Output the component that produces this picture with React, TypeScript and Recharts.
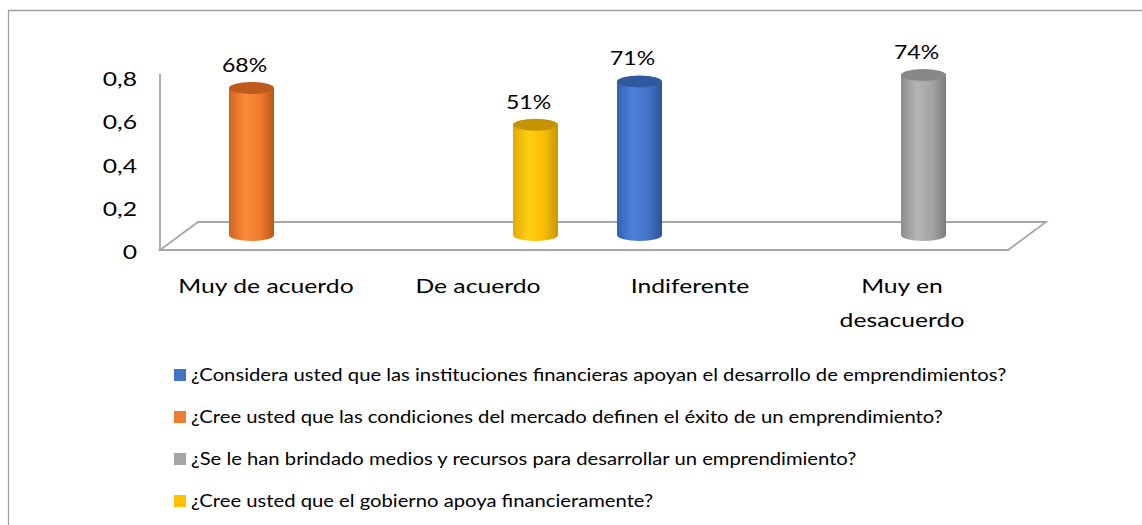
import React from 'react';
import { BarChart, Bar, XAxis, YAxis, LabelList } from 'recharts';

// ---------- data ----------
const CATEGORIES = ['Muy de acuerdo', 'De acuerdo', 'Indiferente', 'Muy en desacuerdo'];
const SERIES_NAMES = [
  '¿Considera usted que las instituciones financieras apoyan el desarrollo de emprendimientos?',
  '¿Cree usted que las condiciones del mercado definen el éxito de un emprendimiento?',
  '¿Se le han brindado medios y recursos para desarrollar un emprendimiento?',
  '¿Cree usted que el gobierno apoya financieramente?',
];
const INSTITUCIONES = [null, null, 0.71, null];
const MERCADO = [0.68, null, null, null];
const RECURSOS = [null, null, null, 0.74];
const GOBIERNO = [null, 0.51, null, null];
const Y_TICKS = [0, 0.2, 0.4, 0.6, 0.8];

const SERIES_KEYS = ['instituciones', 'mercado', 'recursos', 'gobierno'];
const SERIES_VALUES = [INSTITUCIONES, MERCADO, RECURSOS, GOBIERNO];

// ---------- styles ----------
const W = 1142;
const H = 525;
const FONT = 'Lato, "Noto Sans", sans-serif';
const AXIS_FS = 20;
const AXIS_SX = 1.235;
const PCT_FS = 20;
const PCT_SX = 1.15;
const LEG_FS = 17;
const LEG_SX = 1.19;
const LEGEND_COLORS = ['#4472C4', '#ED7D31', '#A5A5A5', '#FFC000'];
const GRADS = [
  { s: ['#3462B3', '#4C82DC', '#4473C6', '#2C5297'], top: '#2F5A9E' },
  { s: ['#D1641C', '#FA8C3A', '#EE7B2D', '#B8561A'], top: '#BF5A1C' },
  { s: ['#8C8C8C', '#B4B4B4', '#A3A3A3', '#7C7C7C'], top: '#888888' },
  { s: ['#E2AA00', '#FFCF14', '#F7BD00', '#C79500'], top: '#C49400' },
];
const AXIS_GRAY = '#A6A6A6';

const MARGIN = { top: 62, right: 131, bottom: 50, left: 103 };
const CHART_H = 345;
const YAXIS_W = 60;
const XAXIS_H = 60;
const PLOT_LEFT = MARGIN.left + YAXIS_W;
const PLOT_RIGHT = W - MARGIN.right;
const BASE_Y = CHART_H - MARGIN.bottom - XAXIS_H;
const FRONT_DY = 15;
const BACK_DY = -13;

const data = CATEGORIES.map((c, i) => {
  const row: any = { category: c };
  SERIES_KEYS.forEach((k, j) => {
    row[k] = SERIES_VALUES[j][i];
  });
  return row;
});

function SText({ x, y, anchor = 'middle', size = 19, sx = 1.2, children }: any) {
  return (
    <text
      transform={`translate(${x},${y}) scale(${sx},1)`}
      textAnchor={anchor}
      fontSize={size}
      fontFamily={FONT}
      fill="#000"
    >
      {children}
    </text>
  );
}

function makeCylinder(key: string, idx: number) {
  return (props: any) => {
    const { x, y, width, height, payload } = props;
    if (!payload || payload[key] == null || !(height > 0)) return <g />;
    const rx = width / 2;
    const ry = 6;
    const by = y + height;
    const d = `M${x},${y} L${x},${by} A${rx},${ry} 0 0 0 ${x + width},${by} L${x + width},${y} Z`;
    return (
      <g>
        <path d={d} fill={`url(#cyl-${idx})`} />
        <ellipse cx={x + rx} cy={y} rx={rx} ry={ry} fill={GRADS[idx].top} />
      </g>
    );
  };
}

function makePctLabel(idx: number) {
  return (props: any) => {
    const { x, y, width, value } = props;
    if (value == null || x == null) return null;
    return (
      <SText key={`lbl-${idx}`} x={x + width / 2 - 7} y={y - 16} size={PCT_FS} sx={PCT_SX}>
        {`${Math.round(value * 100)}%`}
      </SText>
    );
  };
}

function wrapLabel(s: string, max: number) {
  const words = s.split(' ');
  const lines: string[] = [];
  let cur = '';
  words.forEach((w) => {
    const t = cur ? cur + ' ' + w : w;
    if (t.length > max && cur) {
      lines.push(cur);
      cur = w;
    } else cur = t;
  });
  if (cur) lines.push(cur);
  return lines;
}

function XTick(props: any) {
  const { x, y, payload } = props;
  const lines = wrapLabel(String(payload.value), 15);
  return (
    <g>
      {lines.map((l, i) => (
        <SText key={i} x={x - 3} y={y + 58 + i * 34} size={AXIS_FS} sx={AXIS_SX}>
          {l}
        </SText>
      ))}
    </g>
  );
}

function YTick(props: any) {
  const { x, y, payload } = props;
  const label = String(payload.value).replace('.', ',');
  return (
    <SText x={x + 2} y={y + 17 + 7} anchor="end" size={AXIS_FS} sx={AXIS_SX}>
      {label}
    </SText>
  );
}

export default function App() {
  const floor = [
    [PLOT_LEFT - 3, BASE_Y + FRONT_DY],
    [PLOT_RIGHT - 3, BASE_Y + FRONT_DY],
    [PLOT_RIGHT + 35, BASE_Y + BACK_DY],
    [PLOT_LEFT + 35, BASE_Y + BACK_DY],
  ]
    .map((p) => p.join(','))
    .join(' ');
  const legendRows = [375, 417, 459, 501];
  return (
    <div style={{ position: 'absolute', left: 0, top: 0, width: W, height: H, background: '#fff', overflow: 'hidden' }}>
      <svg width={W} height={H} style={{ position: 'absolute', left: 0, top: 0 }}>
        <line x1={8.5} y1={10} x2={8.5} y2={H} stroke="#A0A0A0" strokeWidth={1.3} />
        <line x1={8} y1={10.5} x2={W} y2={10.5} stroke="#A0A0A0" strokeWidth={1.3} />
        <polygon points={floor} fill="#fff" stroke={AXIS_GRAY} strokeWidth={1.8} />
        <line
          x1={PLOT_LEFT - 3}
          y1={MARGIN.top + 12}
          x2={PLOT_LEFT - 3}
          y2={BASE_Y + FRONT_DY}
          stroke={AXIS_GRAY}
          strokeWidth={1.8}
        />
        {SERIES_NAMES.map((n, i) => (
          <g key={i}>
            <rect x={174} y={legendRows[i] - 6} width={12} height={12} fill={LEGEND_COLORS[i]} />
            <SText x={191} y={legendRows[i] + 6} anchor="start" size={LEG_FS} sx={LEG_SX}>
              {n}
            </SText>
          </g>
        ))}
      </svg>
      <div style={{ position: 'absolute', left: 0, top: 0 }}>
        <BarChart width={W} height={CHART_H} data={data} margin={MARGIN} barGap={-9} barCategoryGap={0}>
          <defs>
            {GRADS.map((g, i) => (
              <linearGradient key={i} id={`cyl-${i}`} x1="0" y1="0" x2="1" y2="0">
                <stop offset="0%" stopColor={g.s[0]} />
                <stop offset="35%" stopColor={g.s[1]} />
                <stop offset="70%" stopColor={g.s[2]} />
                <stop offset="100%" stopColor={g.s[3]} />
              </linearGradient>
            ))}
          </defs>
          <XAxis
            dataKey="category"
            height={XAXIS_H}
            axisLine={false}
            tickLine={false}
            tickSize={0}
            tickMargin={0}
            interval={0}
            tick={<XTick />}
          />
          <YAxis
            width={YAXIS_W}
            domain={[0, 0.8]}
            ticks={Y_TICKS}
            axisLine={false}
            tickLine={false}
            tickSize={0}
            tickMargin={28}
            tick={<YTick />}
          />
          {SERIES_KEYS.map((k, i) => (
            <Bar
              key={k}
              dataKey={k}
              name={SERIES_NAMES[i]}
              barSize={45}
              fill={LEGEND_COLORS[i]}
              isAnimationActive={false}
              shape={makeCylinder(k, i)}
            >
              <LabelList dataKey={k} content={makePctLabel(i)} />
            </Bar>
          ))}
        </BarChart>
      </div>
    </div>
  );
}
